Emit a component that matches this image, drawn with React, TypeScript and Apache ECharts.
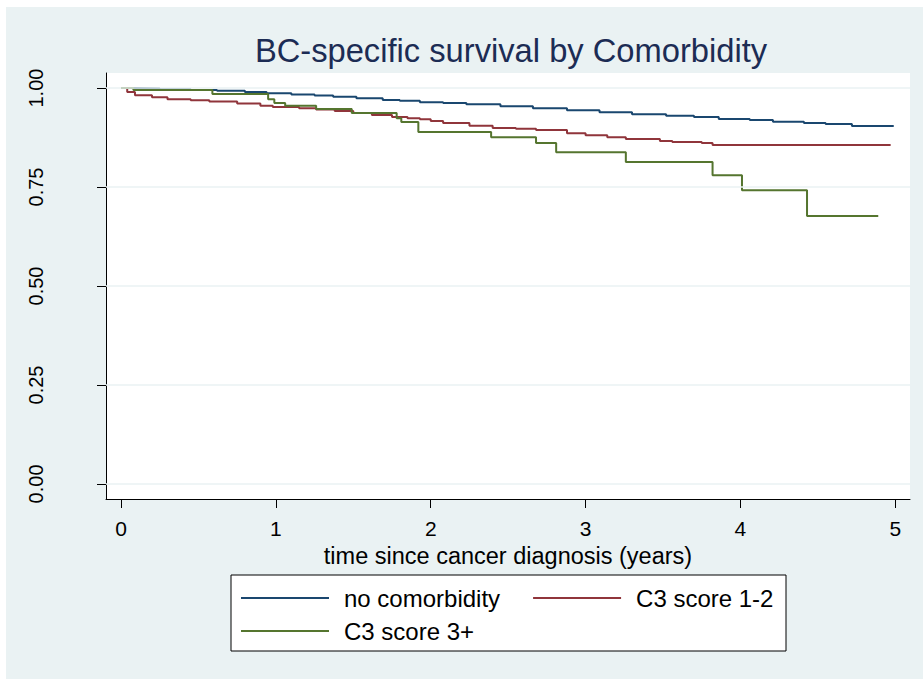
import React, { useEffect, useRef } from "react";
import * as echarts from "echarts";

// Kaplan-Meier estimates of breast-cancer-specific survival by comorbidity group
const titleText = "BC-specific survival by Comorbidity";
const xAxisName = "time since cancer diagnosis (years)";
const xTicks = [0, 1, 2, 3, 4, 5];
const yTicks = [0, 0.25, 0.5, 0.75, 1];
const groupNames = ["no comorbidity", "C3 score 1-2", "C3 score 3+"];
const groupColors = ["#1a476f", "#90353b", "#55752f"];

const noComorbTime = [
  0, 0.08, 0.25, 0.45, 0.62, 0.8, 0.94, 1.1, 1.25, 1.37, 1.52, 1.69, 1.8, 1.93,
  2.08, 2.23, 2.45, 2.66, 2.88, 3.09, 3.3, 3.52, 3.7, 3.86, 4.06, 4.21, 4.41,
  4.55, 4.72, 4.99,
];
const noComorbSurv = [
  1.0, 0.999, 0.997, 0.995, 0.993, 0.99, 0.987, 0.984, 0.981, 0.978, 0.974,
  0.97, 0.968, 0.964, 0.962, 0.959, 0.954, 0.949, 0.944, 0.939, 0.934, 0.93,
  0.927, 0.922, 0.919, 0.915, 0.912, 0.909, 0.904, 0.904,
];

const c3LowTime = [
  0, 0.04, 0.09, 0.2, 0.3, 0.45, 0.57, 0.75, 0.9, 0.98, 1.15, 1.26, 1.38, 1.5,
  1.62, 1.75, 1.85, 1.93, 2.0, 2.08, 2.25, 2.4, 2.55, 2.68, 2.88, 3.0, 3.14,
  3.26, 3.48, 3.56, 3.75, 3.82, 4.97,
];
const c3LowSurv = [
  1.0, 0.99, 0.982, 0.977, 0.972, 0.969, 0.966, 0.961, 0.955, 0.952, 0.949,
  0.946, 0.942, 0.937, 0.932, 0.927, 0.924, 0.921, 0.917, 0.912, 0.905, 0.899,
  0.897, 0.894, 0.886, 0.881, 0.876, 0.871, 0.866, 0.864, 0.861, 0.856, 0.856,
];

const c3HighTime = [
  0, 0.08, 0.59, 0.95, 0.99, 1.06, 1.26, 1.49, 1.78, 1.81, 1.92, 2.39, 2.68,
  2.81, 3.26, 3.82, 4.01, 4.43, 4.89,
];
const c3HighSurv = [
  1.0, 0.995, 0.985, 0.972, 0.962, 0.955, 0.947, 0.937, 0.924, 0.914, 0.889,
  0.876, 0.861, 0.838, 0.813, 0.78, 0.742, 0.677, 0.677,
];

const groupTimes = [noComorbTime, c3LowTime, c3HighTime];
const groupSurv = [noComorbSurv, c3LowSurv, c3HighSurv];

const FONT = "'Liberation Sans', Arial, sans-serif";

export default function App() {
  const ref = useRef<HTMLDivElement>(null);

  useEffect(() => {
    if (!ref.current) return;
    const chart = echarts.init(ref.current, undefined, { renderer: "svg" });

    const curves = groupNames.map((name, i) => ({
      name,
      type: "line" as const,
      step: "end" as const,
      symbol: "none",
      z: 3,
      color: groupColors[i],
      lineStyle: { color: groupColors[i], width: 2 },
      data: groupTimes[i].map((t, j) => [t, groupSurv[i][j]]),
    }));

    const legendText = {
      fontFamily: FONT,
      fontSize: 24,
      color: "#000",
      padding: [0, 0, 0, 10],
    };

    chart.setOption({
      animation: false,
      backgroundColor: "transparent",
      textStyle: { fontFamily: FONT },
      title: {
        text: titleText,
        left: 511,
        top: 34,
        padding: 0,
        textAlign: "center",
        textStyle: {
          fontFamily: FONT,
          fontSize: 32.7,
          fontWeight: "normal",
          color: "#1c2c54",
        },
      },
      grid: {
        left: 106,
        top: 73,
        right: 13,
        bottom: 180,
        show: true,
        backgroundColor: "#ffffff",
        borderWidth: 0,
      },
      legend: [
        {
          data: groupNames.slice(0, 2),
          left: 241,
          top: 586,
          padding: 0,
          orient: "horizontal",
          icon: "rect",
          itemWidth: 88,
          itemHeight: 2,
          itemGap: 33,
          selectedMode: false,
          textStyle: legendText,
        },
        {
          data: groupNames.slice(2),
          left: 241,
          top: 619,
          padding: 0,
          orient: "horizontal",
          icon: "rect",
          itemWidth: 88,
          itemHeight: 2,
          selectedMode: false,
          textStyle: legendText,
        },
      ],
      graphic: [
        {
          type: "rect",
          z: 0,
          shape: { x: 231, y: 575, width: 555, height: 76 },
          style: { fill: "#ffffff", stroke: "#000000", lineWidth: 1 },
        },
      ],
      xAxis: {
        type: "value",
        min: -0.097,
        max: 5.095,
        name: xAxisName,
        nameLocation: "middle",
        nameGap: 40,
        nameTextStyle: { fontFamily: FONT, fontSize: 23.5, color: "#000" },
        axisLine: { show: true, onZero: false, lineStyle: { color: "#000", width: 1 } },
        axisTick: {
          show: true,
          length: 9,
          customValues: xTicks,
          lineStyle: { color: "#000" },
        },
        axisLabel: {
          customValues: xTicks,
          margin: 19,
          fontFamily: FONT,
          fontSize: 21,
          color: "#000",
        },
        splitLine: { show: false },
      },
      yAxis: {
        type: "value",
        min: -0.038,
        max: 1.038,
        axisLine: { show: true, onZero: false, lineStyle: { color: "#000", width: 1 } },
        axisTick: {
          show: true,
          length: 9,
          customValues: yTicks,
          lineStyle: { color: "#000" },
        },
        axisLabel: {
          customValues: yTicks,
          rotate: 90,
          margin: 60,
          fontFamily: FONT,
          fontSize: 20,
          color: "#000",
          formatter: (v: number) => v.toFixed(2),
        },
        splitLine: { show: false },
      },
      series: [
        {
          name: "gridlines",
          type: "line",
          data: [],
          z: 1,
          silent: true,
          markLine: {
            silent: true,
            symbol: "none",
            label: { show: false },
            lineStyle: { color: "#eaf2f3", width: 1.5, type: "solid" },
            data: yTicks.map((v) => ({ yAxis: v })),
          },
        },
        ...curves,
      ],
    });

    return () => chart.dispose();
  }, []);

  return (
    <div
      style={{
        position: "fixed",
        left: 0,
        top: 0,
        width: 923,
        height: 679,
        background: "#ffffff",
      }}
    >
      <div
        style={{
          position: "absolute",
          left: 6,
          top: 7,
          width: 917,
          height: 672,
          background: "#eaf2f3",
        }}
      />
      <div
        ref={ref}
        style={{ position: "absolute", left: 0, top: 0, width: 923, height: 679 }}
      />
    </div>
  );
}
